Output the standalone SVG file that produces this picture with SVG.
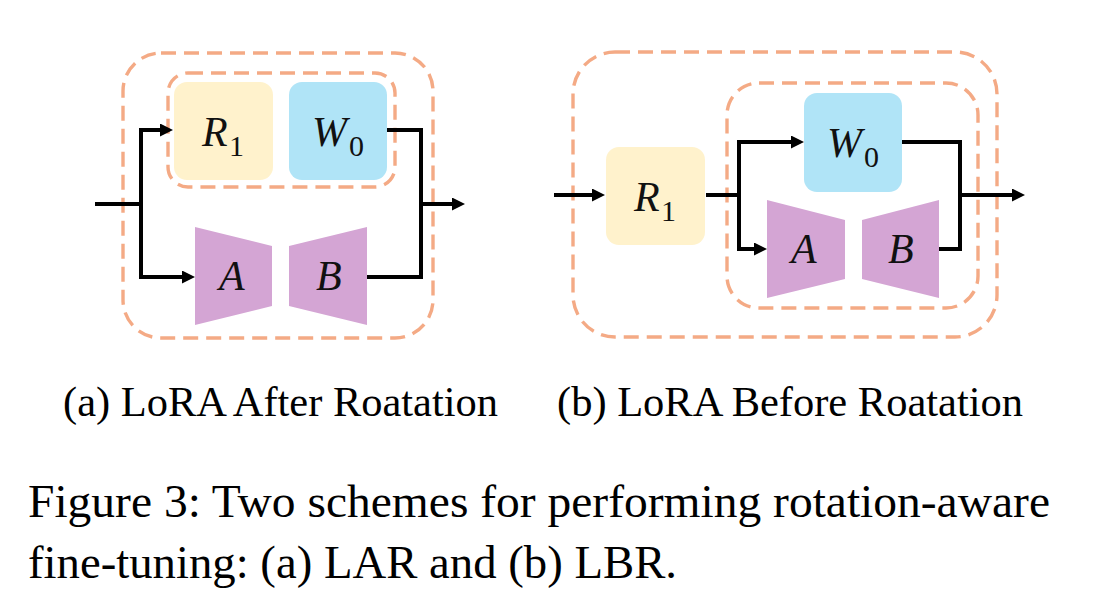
<svg xmlns="http://www.w3.org/2000/svg" width="1095" height="604" viewBox="0 0 1095 604">
<style>
.dash{fill:none;stroke:#F4AA85;stroke-width:3.4;stroke-dasharray:15 8}
.r1{fill:#FFF2CC}
.w0{fill:#B0E4F7}
.trap{fill:#D4A5D4}
.wire{fill:none;stroke:#000;stroke-width:4;stroke-linejoin:miter}
.m{font-family:"Liberation Serif","Times New Roman",serif;font-style:italic;font-size:42px;fill:#111}
.sub{font-family:"Liberation Serif","Times New Roman",serif;font-size:30px;fill:#111}
.cap{font-family:"Liberation Serif","Times New Roman",serif;font-size:43px;fill:#000}
.fig{font-family:"Liberation Serif","Times New Roman",serif;font-size:46px;fill:#000}
</style>
<defs>
<marker id="ah" markerUnits="userSpaceOnUse" markerWidth="14" markerHeight="14" refX="1" refY="6.5" orient="auto">
<path d="M0,0 L13,6.5 L0,13 Z" fill="#000"/>
</marker>
</defs>
<rect width="1095" height="604" fill="#fff"/>

<!-- (a) LoRA After Rotation -->
<g id="a-outer"><rect class="dash" x="123" y="53" width="310" height="285" rx="38"/></g>
<g id="a-inner"><rect class="dash" x="168" y="73" width="227" height="114" rx="20"/></g>
<g id="a-R1"><rect class="r1" x="174" y="82" width="99" height="98" rx="13"/>
<text class="m" x="202" y="146">R</text><text class="sub" x="229" y="156">1</text></g>
<g id="a-W0"><rect class="w0" x="289" y="82" width="98" height="98" rx="13"/>
<text class="m" x="312" y="146">W</text><text class="sub" x="349" y="156">0</text></g>
<g id="a-A"><polygon class="trap" points="195,227 272,246 272,306 195,325"/>
<text class="m" x="219" y="290">A</text></g>
<g id="a-B"><polygon class="trap" points="289,246 367,227 367,325 289,306"/>
<text class="m" x="316" y="290">B</text></g>

<!-- (b) LoRA Before Rotation -->
<g id="b-outer"><rect class="dash" x="573" y="52" width="424" height="285" rx="42"/></g>
<g id="b-inner"><rect class="dash" x="727" y="83" width="251" height="225" rx="32"/></g>
<g id="b-R1"><rect class="r1" x="606" y="147" width="99" height="98" rx="13"/>
<text class="m" x="634" y="211">R</text><text class="sub" x="661" y="221">1</text></g>
<g id="b-W0"><rect class="w0" x="804" y="93" width="98" height="99" rx="13"/>
<text class="m" x="827" y="157">W</text><text class="sub" x="864" y="167">0</text></g>
<g id="b-A"><polygon class="trap" points="767,200 845,220 845,279 767,298"/>
<text class="m" x="791" y="263">A</text></g>
<g id="b-B"><polygon class="trap" points="862,220 939,200 939,298 862,279"/>
<text class="m" x="888" y="263">B</text></g>

<g id="connectors">
<path class="wire" d="M95,204 H141"/>
<path class="wire" d="M141,204 V130 H161" marker-end="url(#ah)"/>
<path class="wire" d="M141,204 V277 H183" marker-end="url(#ah)"/>
<path class="wire" d="M387,130 H421 V277 H367"/>
<path class="wire" d="M421,204 H453" marker-end="url(#ah)"/>

<path class="wire" d="M554,195 H593" marker-end="url(#ah)"/>
<path class="wire" d="M706,195 H739"/>
<path class="wire" d="M739,195 V142 H792" marker-end="url(#ah)"/>
<path class="wire" d="M739,195 V249 H755" marker-end="url(#ah)"/>
<path class="wire" d="M902,142 H960 V249 H939"/>
<path class="wire" d="M960,195 H1013" marker-end="url(#ah)"/>
</g>

<text class="cap" x="63" y="416" textLength="435" lengthAdjust="spacingAndGlyphs">(a) LoRA After Roatation</text>
<text class="cap" x="557" y="416" textLength="466" lengthAdjust="spacingAndGlyphs">(b) LoRA Before Roatation</text>
<text class="fig" x="28" y="517" textLength="1022" lengthAdjust="spacingAndGlyphs">Figure 3: Two schemes for performing rotation-aware</text>
<text class="fig" x="28" y="578" textLength="649" lengthAdjust="spacingAndGlyphs">fine-tuning: (a) LAR and (b) LBR.</text>
</svg>
